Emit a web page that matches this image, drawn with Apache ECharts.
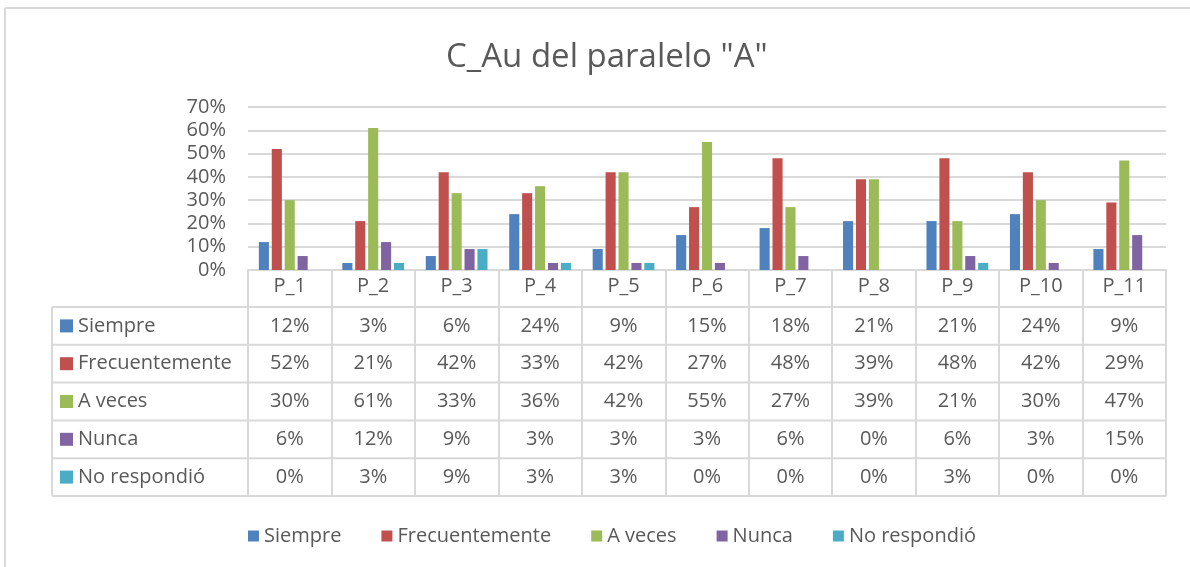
<!DOCTYPE html>
<html>
<head>
<meta charset="utf-8">
<script src="https://cdn.jsdelivr.net/npm/echarts@6/dist/echarts.min.js"></script>
<style>
  html, body { margin: 0; padding: 0; background: #fff; }
  .echarts { width: 1190px; height: 567px; }
</style>
</head>
<body>
<div class="echarts"></div>
<script>
const categories = ['P_1', 'P_2', 'P_3', 'P_4', 'P_5', 'P_6', 'P_7', 'P_8', 'P_9', 'P_10', 'P_11'];
const seriesNames = ['Siempre', 'Frecuentemente', 'A veces', 'Nunca', 'No respondió'];
const siempre = [12, 3, 6, 24, 9, 15, 18, 21, 21, 24, 9];
const frecuentemente = [52, 21, 42, 33, 42, 27, 48, 39, 48, 42, 29];
const aVeces = [30, 61, 33, 36, 42, 55, 27, 39, 21, 30, 47];
const nunca = [6, 12, 9, 3, 3, 3, 6, 0, 6, 3, 15];
const noRespondio = [0, 3, 9, 3, 3, 0, 0, 0, 3, 0, 0];
const yTicks = [0, 10, 20, 30, 40, 50, 60, 70];

const seriesData = [siempre, frecuentemente, aVeces, nunca, noRespondio];
const colors = ['#4F81BD', '#C0504D', '#9BBB59', '#8064A2', '#4BACC6'];
const textColor = '#595959';
const lineColor = '#d9d9d9';
const font = '"Open Sans", "Noto Sans", sans-serif';

window.addEventListener('load', function () {
    let myChart = echarts.init(document.querySelector('.echarts'));

    let myChartOption = {
        animation: false,
        color: colors,
        title: {
            text: 'C_Au del paralelo "A"',
            left: 441,
            top: 36,
            textStyle: {
                color: textColor,
                fontSize: 33,
                fontWeight: 'normal',
                fontFamily: font
            }
        },
        legend: {
            data: seriesNames,
            top: 521,
            left: 243,
            itemWidth: 11,
            itemHeight: 11,
            itemGap: 40,
            icon: 'rect',
            textStyle: {
                color: textColor,
                fontSize: 20,
                fontFamily: font
            }
        },
        grid: {
            left: 248,
            right: 24,
            top: 107,
            bottom: 297,
            containLabel: false
        },
        xAxis: {
            type: 'category',
            data: categories,
            axisLine: { lineStyle: { color: lineColor, width: 2 } },
            axisTick: {
                show: true,
                length: 226,
                lineStyle: { color: lineColor, width: 2 }
            },
            axisLabel: {
                color: textColor,
                fontSize: 20,
                fontFamily: font,
                margin: 6
            }
        },
        yAxis: {
            type: 'value',
            min: yTicks[0],
            max: yTicks[yTicks.length - 1],
            interval: 10,
            axisLine: { show: false },
            axisTick: { show: false },
            splitLine: { lineStyle: { color: lineColor, width: 2 } },
            axisLabel: {
                formatter: '{value}%',
                color: textColor,
                fontSize: 20,
                fontFamily: font,
                margin: 22
            }
        },
        series: seriesNames.map(function (name, i) {
            return {
                name: name,
                type: 'bar',
                data: seriesData[i],
                barGap: '28%',
                barCategoryGap: '26%'
            };
        })
    };
    myChart.setOption(myChartOption);

    // data table under the axis
    let rowTop = 307;
    let rowH = 37.8;
    let tableLeft = 52;
    let tableRight = 1166;
    let graphics = [];

    // outer frame of the chart area
    graphics.push({ type: 'line', shape: { x1: 5, y1: 8, x2: 1190, y2: 8 }, style: { stroke: lineColor, lineWidth: 2 } });
    graphics.push({ type: 'line', shape: { x1: 5, y1: 8, x2: 5, y2: 567 }, style: { stroke: lineColor, lineWidth: 2 } });

    for (let k = 0; k <= seriesNames.length; k++) {
        let y = rowTop + k * rowH;
        graphics.push({ type: 'line', shape: { x1: tableLeft, y1: y, x2: tableRight, y2: y }, style: { stroke: lineColor, lineWidth: 2 } });
    }
    graphics.push({ type: 'line', shape: { x1: tableLeft, y1: rowTop, x2: tableLeft, y2: rowTop + seriesNames.length * rowH }, style: { stroke: lineColor, lineWidth: 2 } });

    seriesNames.forEach(function (name, i) {
        let cy = rowTop + i * rowH + rowH / 2;
        graphics.push({ type: 'rect', shape: { x: 60, y: cy - 6.5, width: 13, height: 13 }, style: { fill: colors[i] } });
        graphics.push({
            type: 'text',
            style: { text: name, x: 78, y: cy, align: 'left', verticalAlign: 'middle', fill: textColor, fontSize: 20, fontFamily: font }
        });
        seriesData[i].forEach(function (v, j) {
            let cx = myChart.convertToPixel({ xAxisIndex: 0 }, j);
            graphics.push({
                type: 'text',
                style: { text: v + '%', x: cx, y: cy, align: 'center', verticalAlign: 'middle', fill: textColor, fontSize: 20, fontFamily: font }
            });
        });
    });

    myChart.setOption({ graphic: graphics });
});
</script>
</body>
</html>
